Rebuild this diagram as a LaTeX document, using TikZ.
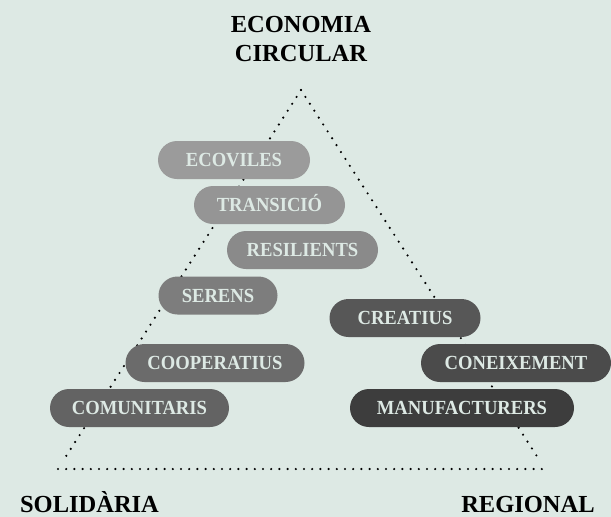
\documentclass[tikz,border=0pt]{standalone}
\usepackage{fontspec}
\setmainfont{Liberation Serif}
\newfontfamily\pillfont[FakeStretch=0.93]{Liberation Serif}
\definecolor{bgmint}{HTML}{DDE9E4}
\definecolor{pillA}{HTML}{9B9B9B}
\definecolor{pillB}{HTML}{959595}
\definecolor{pillC}{HTML}{8A8A8A}
\definecolor{pillD}{HTML}{7D7D7D}
\definecolor{pillE}{HTML}{6B6B6B}
\definecolor{pillF}{HTML}{636363}
\definecolor{pillG}{HTML}{575757}
\definecolor{pillH}{HTML}{4B4B4B}
\definecolor{pillI}{HTML}{3D3D3D}
\tikzset{
  pill/.style={fill=#1, rounded corners=19pt, minimum height=38pt, inner sep=0pt,
    text=bgmint, font=\pillfont\bfseries\fontsize{20}{22}\selectfont, text height=13.2pt, text depth=0pt},
  corner/.style={font=\bfseries\fontsize{24.5}{29}\selectfont, align=center, inner sep=0pt},
  dots/.style={line width=2.4pt, line cap=round, dash pattern=on 0pt off 8.2pt}
}
\begin{document}
\begin{tikzpicture}[x=1pt,y=-1pt]
\fill[bgmint] (0,0) rectangle (611,517);
\useasboundingbox (0,0) rectangle (611,517);

% triangle
\coordinate (apex) at (301,90);
\coordinate (sideL) at (63,461);
\coordinate (sideR) at (540,461);
\coordinate (baseL) at (58,469);
\coordinate (baseR) at (545,469);
\draw[dots] (apex) -- (sideL);
\draw[dots] (apex) -- (sideR);
\draw[dots] (baseL) -- (baseR);

% pills
\node[pill=pillA, minimum width=152pt] (ecoviles) at (234,160) {ECOVILES};
\node[pill=pillB, minimum width=151pt] (transicio) at (269.5,205) {TRANSICIÓ};
\node[pill=pillC, minimum width=151pt] (resilients) at (302.5,250) {RESILIENTS};
\node[pill=pillD, minimum width=119pt] (serens) at (218,295.5) {SERENS};
\node[pill=pillE, minimum width=179pt] (cooperatius) at (215,363) {COOPERATIUS};
\node[pill=pillF, minimum width=179pt] (comunitaris) at (139.5,408) {COMUNITARIS};
\node[pill=pillG, minimum width=151pt] (creatius) at (405,318) {CREATIUS};
\node[pill=pillH, minimum width=190pt] (coneixement) at (516,363) {CONEIXEMENT};
\node[pill=pillI, minimum width=224pt] (manufacturers) at (462,408) {MANUFACTURERS};

% corner labels
\node[corner, anchor=north] (circular) at (301,16) {ECONOMIA\\CIRCULAR};
\node[corner, anchor=base] (solidaria) at (89.5,512) {SOLIDÀRIA};
\node[corner, anchor=base] (regional) at (528,512) {REGIONAL};
\end{tikzpicture}
\end{document}
